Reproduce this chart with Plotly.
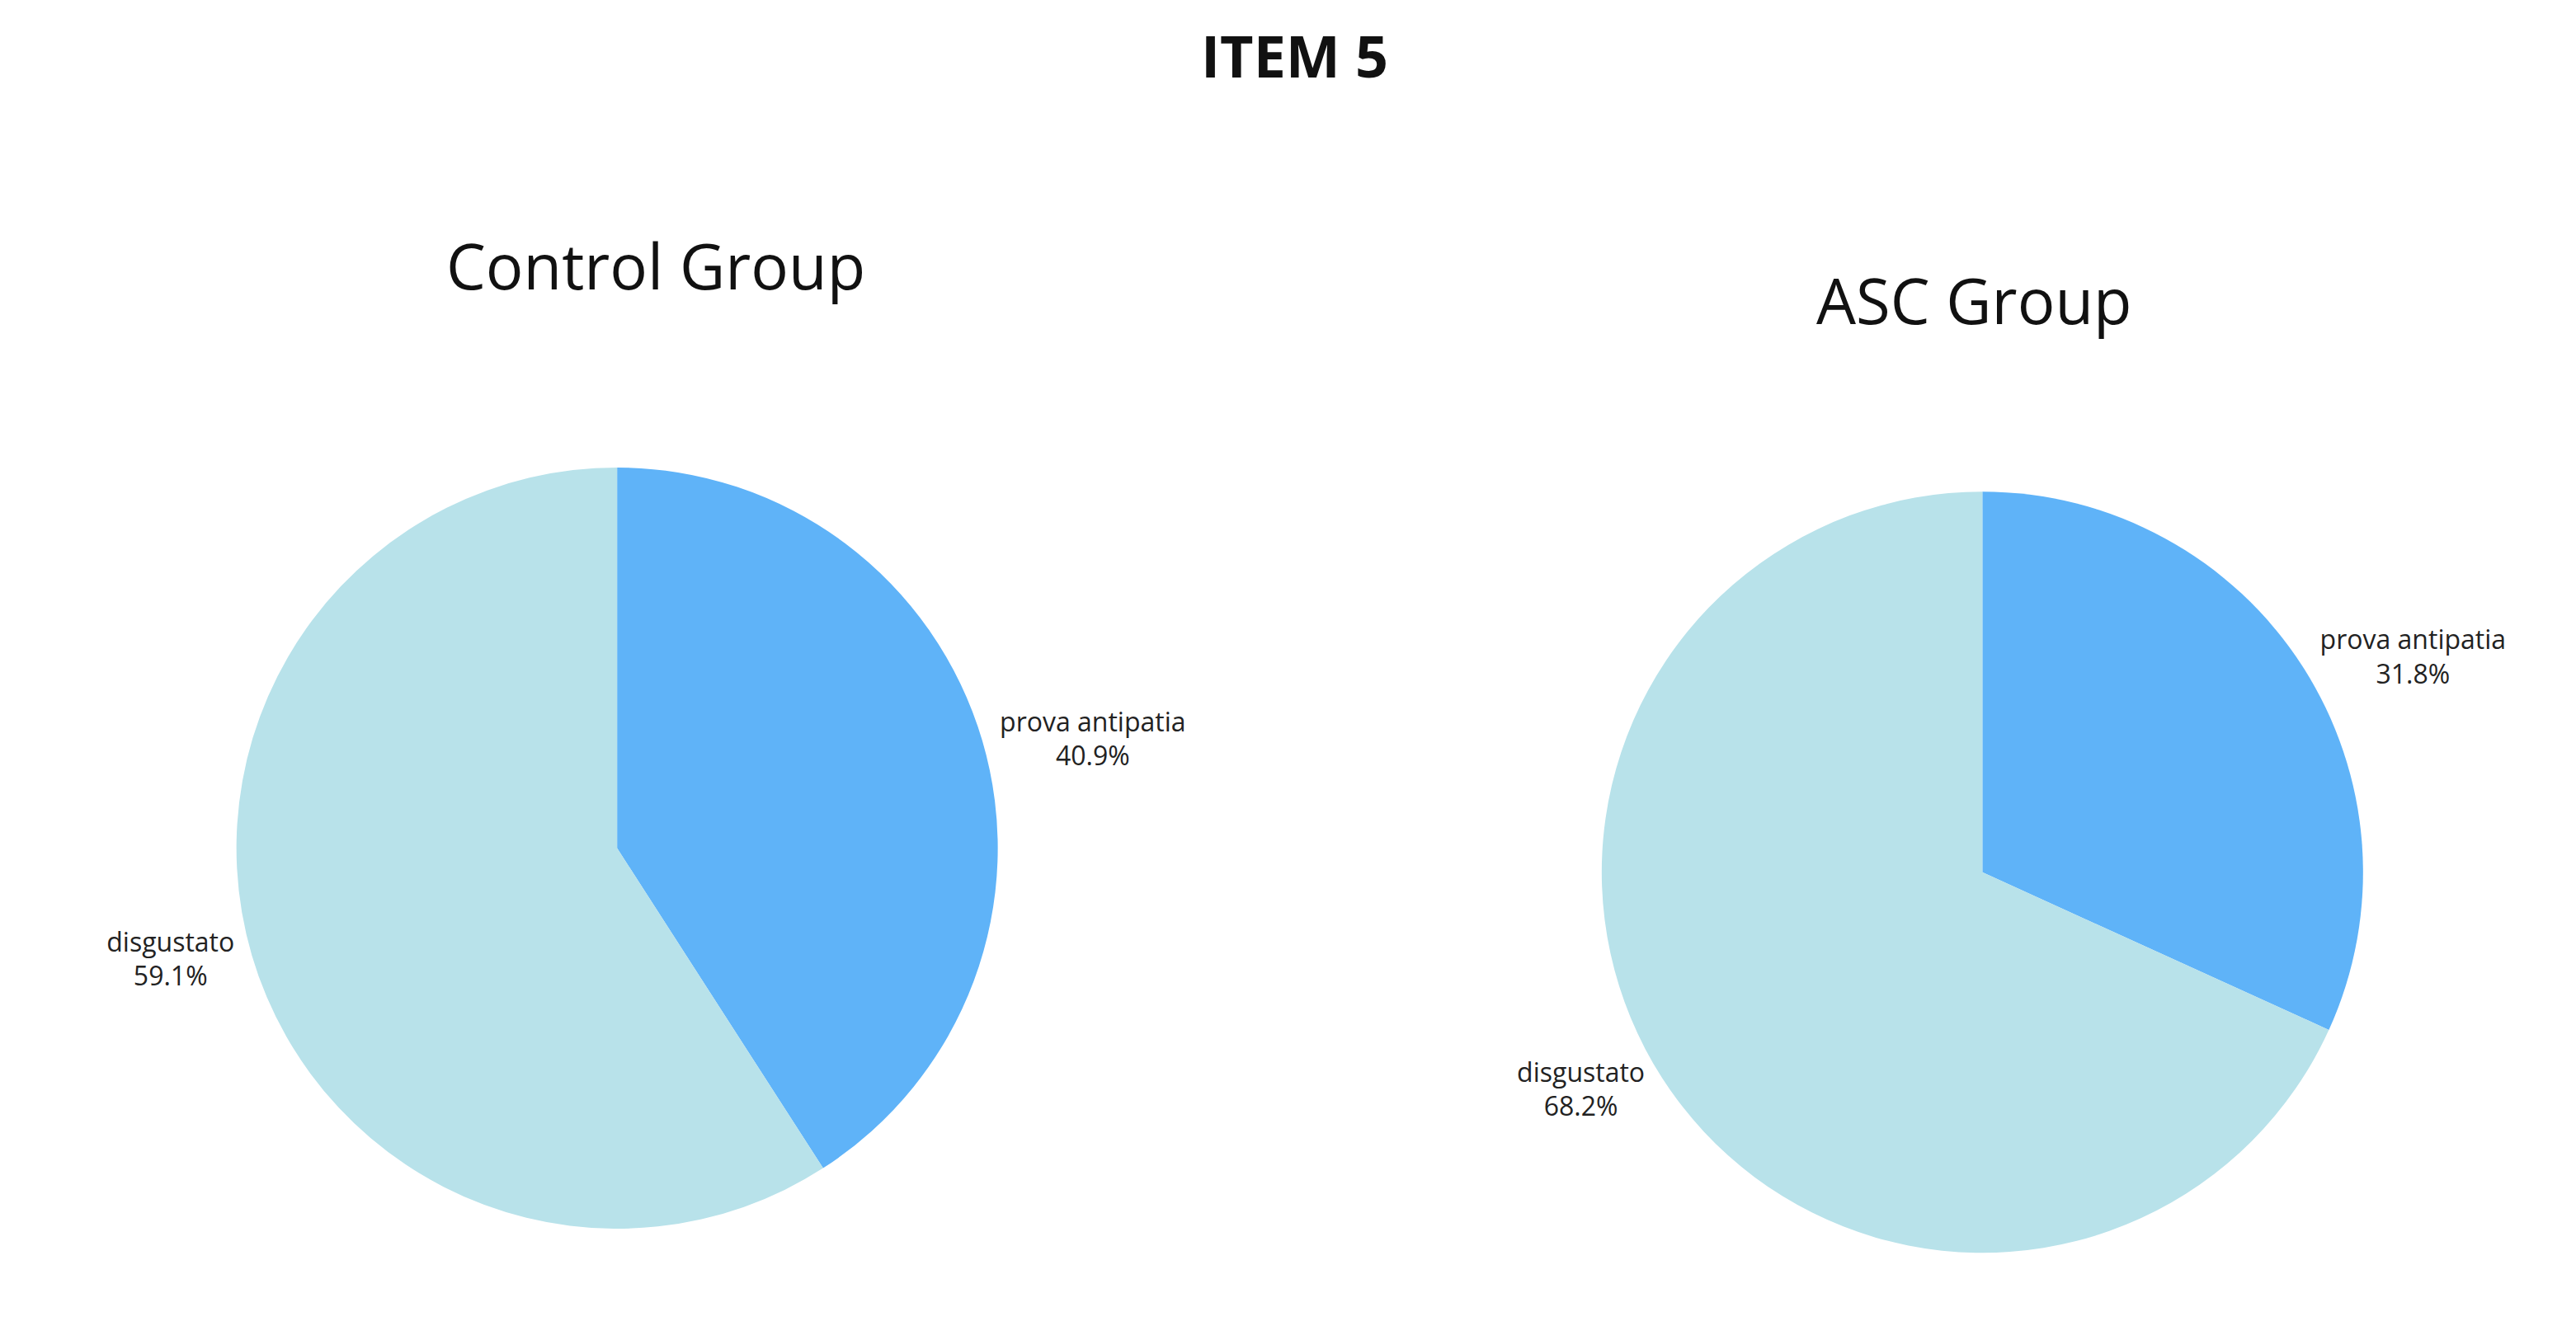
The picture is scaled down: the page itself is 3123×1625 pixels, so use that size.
import plotly.graph_objects as go

labels = ["prova antipatia", "disgustato"]
control_values = [40.9, 59.1]
asc_values = [31.8, 68.2]
colors = ["#5fb3f8", "#b8e2ea"]

fig = go.Figure()
fig.add_trace(go.Pie(
    labels=labels, values=control_values, sort=False, direction="clockwise",
    marker=dict(colors=colors), textposition="outside", textinfo="label+percent",
    textfont=dict(size=32, color="#222"),
    domain=dict(x=[0.089, 0.385], y=[0.088, 0.656]),
))
fig.add_trace(go.Pie(
    labels=labels, values=asc_values, sort=False, direction="clockwise",
    marker=dict(colors=colors), textposition="outside", textinfo="label+percent",
    textfont=dict(size=32, color="#222"),
    domain=dict(x=[0.619, 0.915], y=[0.070, 0.638]),
))

fig.update_layout(
    width=3123, height=1625,
    font=dict(family="Open Sans"),
    margin=dict(l=0, r=0, t=0, b=0),
    showlegend=False,
    paper_bgcolor="white",
    title=dict(text="<b>ITEM 5</b>", x=0.5, y=0.962, xanchor="center", yanchor="middle",
               font=dict(size=70, color="#111")),
    annotations=[
        dict(text="Control Group", x=0.252, y=1 - 314 / 1625, xref="paper", yref="paper",
             xanchor="center", yanchor="middle",
             showarrow=False, font=dict(size=76, color="#111")),
        dict(text="ASC Group", x=0.764, y=1 - 356 / 1625, xref="paper", yref="paper",
             xanchor="center", yanchor="middle",
             showarrow=False, font=dict(size=76, color="#111")),
    ],
)

fig.write_html("out.html")
